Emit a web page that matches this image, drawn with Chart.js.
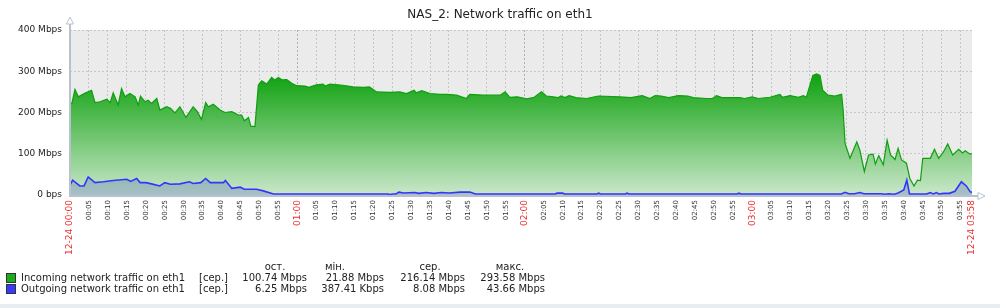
<!DOCTYPE html>
<html>
<head>
<meta charset="utf-8">
<script src="https://cdn.jsdelivr.net/npm/chart.js@4.4.1/dist/chart.umd.min.js"></script>
<style>
  body { margin: 0; background: #fff; }
  #wrap { position: relative; width: 1000px; height: 308px; overflow: hidden; font-family: "DejaVu Sans", sans-serif; color: #222; }
  #c { position: absolute; left: 0; top: 0; }
  .t { position: absolute; font-size: 10px; white-space: nowrap; line-height: 12px; }
  .r { text-align: right; }
  .ctr { text-align: center; }
  .sq { position: absolute; width: 8px; height: 8px; border: 1px solid #333; }
  #title { position: absolute; left: 0; width: 1000px; top: 7px; text-align: center; font-size: 12px; }
  #band { position: absolute; left: 0; top: 304px; width: 1000px; height: 4px; background: #e8edf1; }
</style>
</head>
<body>
<div id="wrap">
  <canvas id="c" width="1000" height="308"></canvas>
  <div id="title">NAS_2: Network traffic on eth1</div>
  <div id="legend"></div>
  <div id="band"></div>
</div>
<script>
// --- Data (minutes since 12-24 00:00, Mbps) ---
const inMinutes = [0, 0.5, 1.3, 2.2, 4, 5.7, 6.6, 7.9, 9.7, 10.6, 11.4, 12.7, 13.6, 14.5, 15.8, 17.2, 18, 18.6, 19.8, 20.6,
  21.5, 22.9, 23.7, 25.5, 26.5, 27.7, 29, 30.6, 32.5, 33.6, 34.7, 35.8, 36.5, 37.8, 39.6, 40.9, 42.7, 44.4, 45.3, 46,
  47.1, 47.7, 48.8, 49.7, 50.6, 51.9, 53.2, 54, 55, 56, 57.2, 58.5, 59.8, 62, 63, 65, 66.8, 67.3, 68.6, 72,
  74.7, 77.4, 79, 80.9, 84.4, 87, 88.8, 90.8, 91.3, 92.8, 95, 97.6, 99.5, 102, 104.6, 105.5, 109, 113.5, 114.8, 116,
  118, 120.5, 122.5, 124.4, 125.7, 127.5, 128.8, 129.5, 130.6, 131.7, 133.5, 136.3, 139.4, 145, 148, 151, 153, 154.4, 156, 158,
  160.5, 163, 164.5, 168, 169.5, 170.6, 172, 176.8, 178, 180, 181.6, 184.7, 187.3, 188, 190, 192.2, 193.5, 194.3, 195, 196,
  197, 197.9, 198.6, 200, 201.8, 203.6, 204, 204.5, 205.8, 207.6, 208.4, 209.6, 210.7, 211.9, 212.5, 213.4, 214.6, 215.6, 216.5, 217.7,
  218.5, 219.4, 220.7, 221.6, 222.7, 223.6, 224.4, 225, 227, 228.1, 229.2, 230.5, 231.6, 232.9, 234.5, 235.5, 236.2, 237.5, 238];
const inMbps = [222, 222, 256, 238, 247, 254, 224, 226, 232, 224, 248, 218, 258, 238, 246, 238, 218, 240, 226, 230,
  222, 234, 206, 214, 210, 199, 214, 188, 214, 202, 183, 224, 214, 220, 206, 200, 202, 194, 194, 180,
  188, 167, 166, 267, 277, 269, 285, 279, 285, 279, 280, 271, 265, 264, 261, 267, 269, 264, 269, 266,
  262, 261, 262, 250, 249, 250, 246, 254, 248, 253, 246, 244, 244, 242, 234, 244, 242, 242, 250, 237,
  238, 233, 237, 250, 240, 238, 236, 240, 236, 241, 236, 234, 240, 238, 236, 241, 234, 241, 240, 236,
  241, 240, 236, 234, 234, 241, 236, 236, 234, 238, 234, 237, 244, 237, 241, 237, 241, 237, 259, 290,
  293.6, 290, 254, 242, 240, 244, 206, 125, 89, 129, 109, 57, 97, 99, 75, 95, 73, 133, 97, 86,
  113, 85, 77, 40, 21.9, 36, 35, 89, 89, 111, 89, 105, 124, 97, 111, 102, 107, 99, 100.7];

const outMinutes = [0, 0.7, 2.6, 3.7, 4.8, 6.6, 8.8, 11.4, 15, 16, 17.6, 18.5, 20, 21.5, 23.7, 25, 26.5, 29, 31.5, 32.5,
  34.5, 35.8, 37, 40.5, 41, 42.7, 44.9, 46, 49.2, 51, 53.7, 84, 84.5, 85, 86, 86.8, 88, 91, 92, 94,
  96, 98, 100, 103, 105.5, 107, 128, 128.5, 130, 130.5, 139, 139.5, 140, 146.5, 147, 147.5, 176, 176.5, 177, 203.5,
  204.5, 205.5, 207, 208.4, 209.5, 214, 215, 216, 217.5, 218.5, 220, 220.8, 221.5, 223, 226, 227, 227.8, 228.6, 229.3, 230.5,
  232, 233.5, 235.2, 236.5, 237.5, 238];
const outMbps = [24, 36, 22, 22, 43.7, 30, 32, 35, 38, 33, 40, 30, 30, 27, 22, 30, 26, 27, 32, 28,
  30, 40, 30, 30, 35, 16, 19, 14, 14, 10, 2.5, 2.5, 0.4, 2.5, 2.5, 7, 5, 6, 4, 6,
  4, 6, 5, 7, 7, 2.5, 2.5, 4.5, 4.5, 2.5, 2.5, 4.5, 2.5, 2.5, 4.5, 2.5, 2.5, 4.5, 2.5, 2.5,
  6.5, 3, 3, 6, 3, 3, 2, 3, 2, 5, 12, 36, 2.5, 2.5, 2.5, 6, 2.5, 6, 2.5, 4,
  4, 9, 32, 22, 8, 6.25];

const yTicks = [0, 100, 200, 300, 400];
const xTickMinutes = [];
for (let m = 0; m <= 235; m += 5) xTickMinutes.push(m);
xTickMinutes.push(238);

const legendRows = [
  { name: 'Incoming network traffic on eth1', color: '#1cab1c', stats: ['100.74 Mbps', '21.88 Mbps', '216.14 Mbps', '293.58 Mbps'] },
  { name: 'Outgoing network traffic on eth1', color: '#3a3aff', stats: ['6.25 Mbps', '387.41 Kbps', '8.08 Mbps', '43.66 Mbps'] }
];
const statHeaders = ['ост.', 'мін.', 'сер.', 'макс.'];

// --- Helpers ---
function fmtTime(m) {
  const hh = String(Math.floor(m / 60)).padStart(2, '0');
  const mm = String(m % 60).padStart(2, '0');
  const t = hh + ':' + mm;
  return (m === 0 || m === 238) ? '12-24 ' + t : t;
}
function isRed(m) { return m % 60 === 0 || m === 238; }
function tickVal(c) { return c && c.tick ? c.tick.value : -1; }

function greenFill(ctx) {
  const area = ctx.chart.chartArea;
  if (!area) return '#6c6';
  const g = ctx.chart.ctx.createLinearGradient(0, area.top + 45, 0, area.bottom);
  g.addColorStop(0, '#10a210');
  g.addColorStop(1, '#cae7ca');
  return g;
}

// background + axis lines with arrows
const zbxDecor = {
  id: 'zbxDecor',
  beforeDraw(chart) {
    const { ctx, chartArea: a } = chart;
    ctx.save();
    ctx.fillStyle = '#ebebeb';
    ctx.fillRect(a.left, a.top, a.right - a.left, a.bottom - a.top);
    ctx.restore();
  },
  afterDatasetsDraw(chart) {
    const { ctx, chartArea: a } = chart;
    ctx.save();
    ctx.strokeStyle = '#b7c2cc';
    ctx.lineWidth = 2;
    ctx.beginPath();
    ctx.moveTo(a.left, a.bottom + 1);
    ctx.lineTo(a.left, a.top - 9);
    ctx.moveTo(a.left - 1, a.bottom + 1);
    ctx.lineTo(a.right + 8, a.bottom + 1);
    ctx.stroke();
    // arrows
    ctx.lineWidth = 1;
    ctx.fillStyle = '#fff';
    ctx.beginPath();
    ctx.moveTo(a.left, a.top - 13);
    ctx.lineTo(a.left - 3.5, a.top - 6);
    ctx.lineTo(a.left + 3.5, a.top - 6);
    ctx.closePath();
    ctx.fill(); ctx.stroke();
    ctx.beginPath();
    ctx.moveTo(a.right + 13, a.bottom + 1);
    ctx.lineTo(a.right + 6, a.bottom - 2.5);
    ctx.lineTo(a.right + 6, a.bottom + 4.5);
    ctx.closePath();
    ctx.fill(); ctx.stroke();
    ctx.restore();
  }
};

new Chart(document.getElementById('c'), {
  type: 'line',
  data: {
    datasets: [
      {
        label: 'Incoming network traffic on eth1',
        data: inMinutes.map((m, i) => ({ x: m, y: inMbps[i] })),
        borderColor: '#0f9f0f',
        borderWidth: 1.2,
        backgroundColor: greenFill,
        fill: 'origin',
        pointRadius: 0,
        tension: 0,
        order: 2
      },
      {
        label: 'Outgoing network traffic on eth1',
        data: outMinutes.map((m, i) => ({ x: m, y: outMbps[i] })),
        borderColor: '#3434ff',
        borderWidth: 1.6,
        backgroundColor: 'rgba(80, 90, 190, 0.28)',
        fill: 'origin',
        pointRadius: 0,
        tension: 0,
        order: 1
      }
    ]
  },
  options: {
    responsive: false,
    animation: false,
    layout: { padding: { top: 30, right: 28, bottom: 0, left: 0 } },
    plugins: {
      legend: { display: false },
      title: { display: false },
      tooltip: { enabled: false }
    },
    scales: {
      x: {
        type: 'linear',
        min: 0,
        max: 238,
        afterBuildTicks: (scale) => { scale.ticks = xTickMinutes.map(v => ({ value: v })); },
        afterFit: (scale) => { scale.height = 113; },
        border: { display: false, dash: [2, 2] },
        grid: {
          drawTicks: false,
          color: (c) => {
            const v = tickVal(c);
            if (v === 238 || v <= 0) return 'rgba(0,0,0,0)';
            return isRed(v) ? '#a9b0b6' : '#c6c6c6';
          },
          lineWidth: 1
        },
        ticks: {
          autoSkip: false,
          minRotation: 90,
          maxRotation: 90,
          padding: 5,
          callback: (v) => fmtTime(v),
          color: (c) => isRed(tickVal(c)) ? '#ee2b2b' : '#333',
          font: (c) => ({ family: 'DejaVu Sans', size: isRed(tickVal(c)) ? 9 : 7 })
        }
      },
      y: {
        min: 0,
        max: 400,
        afterBuildTicks: (scale) => { scale.ticks = yTicks.map(v => ({ value: v })); },
        afterFit: (scale) => { scale.width = 70; },
        border: { display: false, dash: [2, 2] },
        grid: {
          drawTicks: false,
          color: (c) => tickVal(c) === 0 ? 'rgba(0,0,0,0)' : '#c6c6c6'
        },
        ticks: {
          padding: 8,
          color: '#222',
          font: { family: 'DejaVu Sans', size: 9 },
          callback: (v) => v === 0 ? '0 bps' : v + ' Mbps'
        }
      }
    }
  },
  plugins: [zbxDecor]
});

// --- Legend with statistics ---
const legend = document.getElementById('legend');
const colRight = [307, 384, 465, 545];
const headCenter = [275, 335, 430, 510];
let html = '';
statHeaders.forEach((h, i) => {
  html += `<div class="t ctr" style="left:${headCenter[i] - 30}px;width:60px;top:261px">${h}</div>`;
});
legendRows.forEach((row, r) => {
  const top = 272 + r * 11;
  html += `<div class="sq" style="left:6px;top:${top + 1}px;background:${row.color}"></div>`;
  html += `<div class="t" style="left:21px;top:${top}px">${row.name}</div>`;
  html += `<div class="t" style="left:199px;top:${top}px">[сер.]</div>`;
  row.stats.forEach((s, i) => {
    html += `<div class="t r" style="left:${colRight[i] - 100}px;width:100px;top:${top}px">${s}</div>`;
  });
});
legend.innerHTML = html;
</script>
</body>
</html>
